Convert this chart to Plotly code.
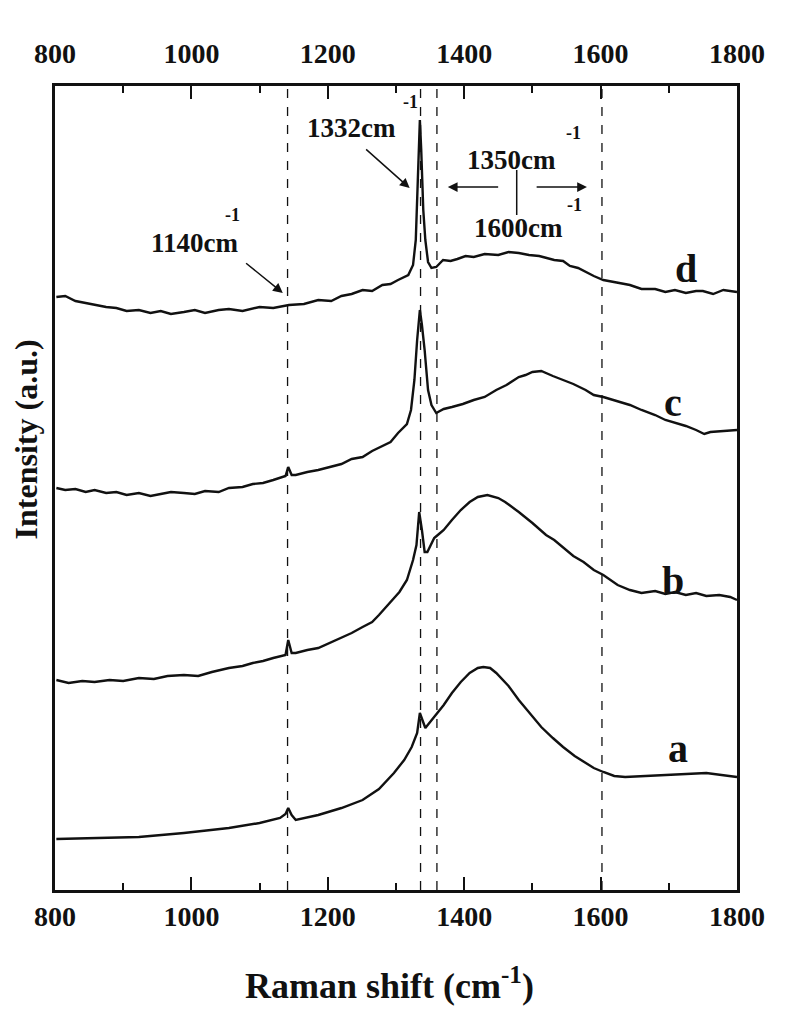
import plotly.graph_objects as go

# ---- data (wavenumber in cm^-1, intensity in arbitrary units) ----
wn_d = [802, 815, 830, 845, 858, 875, 890, 905, 923, 940, 955, 970, 989, 1005, 1020, 1040, 1055, 1075, 1100,
        1120, 1143, 1165, 1186, 1205, 1220, 1235, 1251, 1265, 1280, 1292, 1303, 1318, 1325,
        1329, 1332, 1335, 1337, 1340, 1343, 1347, 1352, 1359, 1369, 1380, 1390, 1402, 1414, 1430, 1450, 1465,
        1480, 1495, 1510, 1532, 1545, 1555, 1567, 1578, 1590, 1604, 1620, 1643, 1660, 1680, 1695, 1709, 1725,
        1740, 1750, 1765, 1780, 1800]
int_d = [593, 594, 589, 587, 585, 583, 582, 579, 580, 577, 579, 576, 578, 580, 577, 580, 581, 579, 583,
         582, 585, 586, 590, 589, 594, 596, 600, 599, 605, 606, 610, 615, 625,
         650, 710, 770, 740, 680, 650, 628, 622, 623, 630, 629, 631, 634, 633, 636, 635, 638,
         637, 635, 634, 630, 629, 624, 622, 618, 614, 610, 608, 605, 601, 601, 598, 600, 597,
         599, 599, 596, 600, 598]

wn_c = [802, 815, 830, 845, 858, 875, 890, 905, 923, 940, 955, 970, 989, 1005, 1020, 1040, 1055, 1075, 1090,
        1105, 1120, 1138, 1142, 1147, 1153, 1170, 1186, 1205, 1220, 1235, 1251, 1265, 1280, 1292,
        1303, 1316, 1322, 1327, 1331, 1335, 1338, 1342, 1347, 1352, 1359, 1370, 1382, 1398, 1414, 1430, 1447,
        1462, 1480, 1490, 1500, 1513, 1530, 1545, 1560, 1578, 1590, 1604, 1620, 1643, 1660, 1680, 1695, 1709,
        1725, 1740, 1752, 1761, 1780, 1800]
int_c = [402, 400, 401, 398, 400, 397, 398, 395, 397, 394, 396, 398, 397, 396, 399, 398, 402, 403, 406,
         407, 410, 414, 423, 415, 415, 418, 420, 423, 426, 431, 433, 439, 444, 448,
         457, 466, 480, 510, 550, 580, 565, 540, 500, 485, 477, 481, 483, 486, 490, 493, 500,
         505, 513, 515, 518, 519, 514, 510, 506, 500, 495, 493, 490, 485, 480, 475, 470, 467,
         464, 460, 456, 458, 459, 460]

wn_b = [802, 820, 840, 858, 880, 900, 923, 945, 965, 989, 1010, 1030, 1055, 1075, 1090, 1105, 1120, 1138,
        1142, 1147, 1153, 1170, 1186, 1205, 1220, 1235, 1251, 1265, 1275, 1290,
        1305, 1316, 1325, 1330, 1334, 1338, 1342, 1346, 1356, 1363, 1370, 1382, 1395, 1408, 1420, 1434, 1450,
        1460, 1480, 1500, 1520, 1532, 1545, 1560, 1575, 1590, 1604, 1625, 1643, 1660, 1680, 1695, 1709, 1725,
        1740, 1755, 1774, 1790, 1800]
int_b = [210, 207, 209, 208, 210, 209, 212, 211, 214, 215, 214, 218, 222, 224, 227, 229, 232, 235,
         250, 237, 237, 240, 242, 248, 252, 257, 263, 268, 275, 287,
         298, 310, 330, 345, 378, 360, 338, 338, 352, 356, 360, 370, 380, 388, 393, 395, 392,
         388, 378, 367, 355, 350, 343, 334, 328, 320, 315, 305, 300, 297, 299, 296, 298, 295,
         297, 294, 295, 293, 290]

wn_a = [802, 858, 923, 989, 1055, 1100, 1130, 1138, 1142, 1147, 1153, 1186, 1220, 1251, 1275, 1297, 1312,
        1323, 1331, 1335, 1338, 1343, 1350, 1356, 1370, 1382, 1395, 1408, 1420, 1428, 1438, 1447, 1465, 1480,
        1497, 1513, 1530, 1545, 1562, 1578, 1590, 1604, 1620, 1636, 1670, 1709, 1755, 1800]
int_a = [51, 52, 53, 57, 62, 67, 72, 76, 82, 75, 70, 75, 82, 90, 101, 117, 130,
         143, 157, 177, 172, 162, 168, 173, 185, 197, 208, 217, 222, 223, 222, 217, 204, 190,
         176, 163, 152, 143, 134, 127, 122, 118, 114, 113, 114, 115, 117, 113]

curve_labels = ["a", "b", "c", "d"]
marker_lines = [1141, 1336, 1360, 1602]  # dashed reference lines as drawn
x_ticks = [800, 1000, 1200, 1400, 1600, 1800]

FONT = "Liberation Serif"
BLACK = "#111111"

fig = go.Figure()
for wn, inten, name in [(wn_a, int_a, "a"), (wn_b, int_b, "b"), (wn_c, int_c, "c")]:
    fig.add_trace(go.Scatter(x=wn, y=inten, mode="lines", name=name,
                             line=dict(color=BLACK, width=2.4), showlegend=False))
# curve d is drawn on the top axis (same range) so the top axis is rendered
fig.add_trace(go.Scatter(x=wn_d, y=int_d, mode="lines", name="d", xaxis="x2",
                         line=dict(color=BLACK, width=2.4), showlegend=False))

for xv in marker_lines:
    fig.add_shape(type="line", xref="x", yref="paper", x0=xv, x1=xv, y0=0, y1=1,
                  line=dict(color=BLACK, width=1.3, dash="dash"))

axis_common = dict(range=[800, 1800], tickmode="array", tickvals=x_ticks,
                   ticks="inside", ticklen=13, tickwidth=2, tickcolor=BLACK,
                   showgrid=False, zeroline=False, showline=True, linecolor=BLACK, linewidth=2.5,
                   tickfont=dict(family=FONT, size=28, color=BLACK, weight="bold"),
                   minor=dict(dtick=100, tick0=800, ticks="inside", ticklen=7, tickwidth=1.5,
                              tickcolor=BLACK, showgrid=False))
fig.update_layout(
    width=784, height=1024,
    margin=dict(l=47, r=55, t=78, b=142),
    paper_bgcolor="white", plot_bgcolor="white",
    xaxis=dict(**axis_common, side="bottom", ticklabelstandoff=0),
    xaxis2=dict(**axis_common, side="top", overlaying="x", anchor="y", ticklabelstandoff=9),
    yaxis=dict(range=[0, 804], showticklabels=False, ticks="", showgrid=False, zeroline=False,
               showline=True, linecolor=BLACK, linewidth=2.5, mirror=True),
)

ann_font = dict(family=FONT, size=27, color=BLACK)
sup_font = dict(family=FONT, size=18, color=BLACK)
texts = [
    ("<b>1332cm</b>", 1235, 762, ann_font),
    ("<b>-1</b>", 1321, 788, sup_font),
    ("<b>1350cm</b>", 1470, 730, ann_font),
    ("<b>-1</b>", 1560, 757, sup_font),
    ("<b>1600cm</b>", 1479, 662, ann_font),
    ("<b>-1</b>", 1562, 685, sup_font),
    ("<b>1140cm</b>", 1005, 647, ann_font),
    ("<b>-1</b>", 1060, 675, sup_font),
]
for t, x, y, f in texts:
    fig.add_annotation(text=t, x=x, y=y, xref="x", yref="y", showarrow=False, font=f,
                       xanchor="center", yanchor="middle")

label_pos = {"d": (1725, 622), "c": (1706, 488), "b": (1706, 310), "a": (1713, 142)}
for lab in curve_labels:
    x, y = label_pos[lab]
    fig.add_annotation(text=f"<b>{lab}</b>", x=x, y=y, xref="x", yref="y", showarrow=False,
                       xanchor="center", yanchor="middle",
                       font=dict(family=FONT, size=40, color=BLACK))

# arrows
arrows = [((1320, 702), (1254, 742)), ((1134, 597), (1078, 628)),
          ((1376, 703), (1452, 703)), ((1580, 703), (1504, 703))]
for (hx, hy), (tx, ty) in arrows:
    fig.add_annotation(x=hx, y=hy, ax=tx, ay=ty, xref="x", yref="y", axref="x", ayref="y",
                       text="", showarrow=True, arrowhead=2, arrowsize=1.3, arrowwidth=1.5,
                       arrowcolor=BLACK)
fig.add_shape(type="line", xref="x", yref="y", x0=1477, x1=1477, y0=675, y1=720,
              line=dict(color=BLACK, width=1.5))

# axis titles
fig.add_annotation(text="<b>Raman shift (cm<sup>-1</sup>)</b>", xref="paper", yref="paper",
                   x=0.49, y=-0.116, showarrow=False, xanchor="center", yanchor="middle",
                   font=dict(family=FONT, size=36, color=BLACK))
fig.add_annotation(text="<b>Intensity (a.u.)</b>", xref="paper", yref="paper",
                   x=-0.043, y=0.56, showarrow=False, textangle=-90, xanchor="center", yanchor="middle",
                   font=dict(family=FONT, size=32, color=BLACK))

fig.write_html("out.html")
